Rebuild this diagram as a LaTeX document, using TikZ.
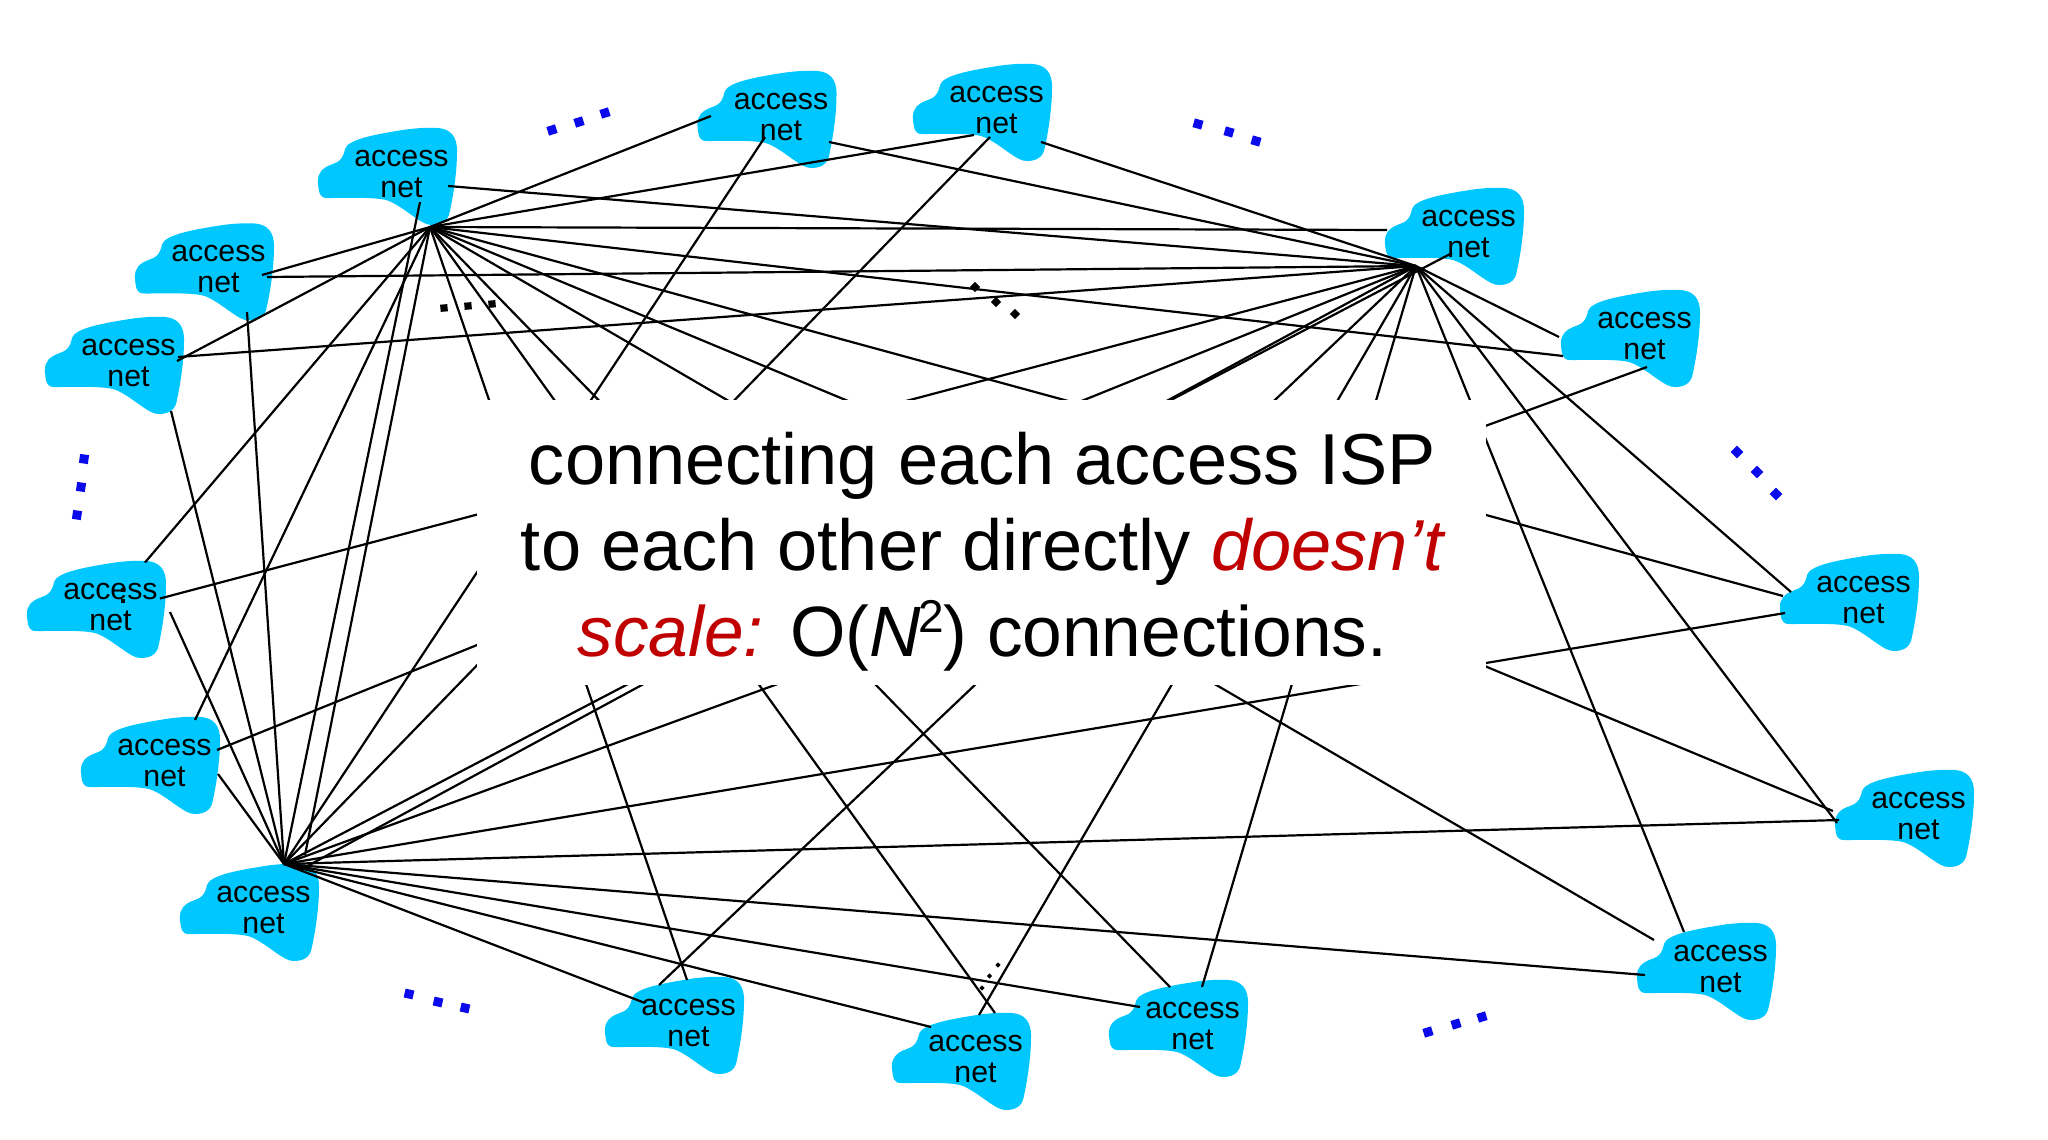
\documentclass[tikz,border=0pt]{standalone}
\usepackage{fontspec}
\setmainfont{Liberation Sans}
\definecolor{cloudblue}{RGB}{0,200,255}
\definecolor{dotblue}{RGB}{10,10,235}
\definecolor{msgred}{RGB}{192,0,0}
\tikzset{
  x=1pt,y=-1pt,
  link/.style={line width=2.2pt,black},
  cloudlabel/.style={font=\fontsize{30.3}{31}\selectfont,align=center,inner sep=0pt,text=black},
  pics/accessnet/.style={code={
    \fill[cloudblue] (15.5,70)
      .. controls (5,70) and (2,71) .. (0.5,60)
      .. controls (-1,50) and (0,44) .. (8,39)
      .. controls (17,34) and (24,36) .. (27,21)
      .. controls (30,12) and (52,7) .. (88,1.5)
      .. controls (100,0) and (108,-0.5) .. (120,0)
      .. controls (132,1) and (139.5,8) .. (139,24)
      .. controls (139,45) and (135,70) .. (131,87)
      .. controls (128,96) and (118,98) .. (110,96.5)
      .. controls (100,94) and (82,76) .. (68,72)
      .. controls (55,69) and (30,70) .. (15.5,70) -- cycle;
    \node[cloudlabel] (-t) at (83.5,45.5) {access\\net};
  }}
}
\newcommand{\dotsq}[5]{\fill[#1,shift={(#2,#3)},rotate=#4] (-#5,-#5) rectangle (#5,#5);}
\begin{document}
\begin{tikzpicture}
\useasboundingbox (0,0) rectangle (2048,1140);
% clouds
\pic (c1) at (318,128) {accessnet};
\pic (c2) at (697.5,71) {accessnet};
\pic (c3) at (913,64) {accessnet};
\pic (c4) at (1385,188) {accessnet};
\pic (c5) at (1561,290) {accessnet};
\pic (c6) at (1780,554) {accessnet};
\pic (c7) at (1835,770) {accessnet};
\pic (c8) at (1637,923) {accessnet};
\pic (c9) at (1109,980) {accessnet};
\pic (c10) at (892,1013) {accessnet};
\pic (c11) at (605,977) {accessnet};
\pic (c12) at (180,864) {accessnet};
\pic (c13) at (81,717) {accessnet};
\pic (c14) at (27,561) {accessnet};
\pic (c15) at (45,317) {accessnet};
\pic (c16) at (135,223.5) {accessnet};
% hubs
\coordinate (hubA) at (430,227);
\coordinate (hubB) at (1416,266);
\coordinate (hubC) at (284,864);
% connectors
\foreach \h/\n/\x/\y in {
  A/2/711/116, A/3/974/135, A/4/1387/230, A/5/1563/356, A/6/1783/596,
  A/7/1833/811, A/8/1654/940, A/9/1170/987, A/10/995/1013, A/11/687/980,
  A/12/305/855, A/13/195/720, A/14/145/562.5, A/15/177/361, A/16/262/275,
  B/1/448/186, B/2/829/142, B/3/1041/142, B/5/1559/337, B/6/1791/592,
  B/7/1837/823, B/8/1684/932, B/9/1202/987, B/10/979/1015, B/11/659/985,
  B/12/300/870, B/13/217/750, B/14/160/598.5, B/15/178/357, B/16/267/277,
  C/1/420/202, C/2/765/137, C/3/990/137, C/4/1452/253, C/5/1647/367,
  C/6/1785/613, C/7/1839/820, C/8/1645/975, C/9/1140/1007, C/10/931/1027,
  C/11/645/1003, C/13/218/774, C/14/170/612, C/15/171/411, C/16/247/312}
{
  \coordinate (\h end\n) at (\x,\y);
  \draw[link] (hub\h) -- (\h end\n);
}
% blue dot groups
\foreach \x/\y in {552/130,579/122,605/113} {\dotsq{dotblue}{\x}{\y}{18}{4.5}}
\foreach \x/\y in {1198/124,1229/132,1256/141} {\dotsq{dotblue}{\x}{\y}{-16}{4.5}}
\foreach \x/\y in {1737/452,1757/472,1776/494} {\dotsq{dotblue}{\x}{\y}{-45}{4.5}}
\foreach \x/\y in {1428/1032,1456/1024,1482/1017} {\dotsq{dotblue}{\x}{\y}{17}{4.5}}
\foreach \x/\y in {409/994,438/1002,465/1008} {\dotsq{dotblue}{\x}{\y}{-13}{4.5}}
\foreach \x/\y in {84/459,81/487,77/515} {\dotsq{dotblue}{\x}{\y}{-8}{4.5}}
% black dot groups
\foreach \x/\y in {444/308,468/306,492/304} {\dotsq{black}{\x}{\y}{5}{3.6}}
\foreach \x/\y in {975/287,996/302,1015/314} {\dotsq{black}{\x}{\y}{45}{3.6}}
\foreach \x/\y in {982/988,989.5/976,998/965} {\dotsq{black}{\x}{\y}{45}{1.8}}
\foreach \y in {590,601} {\dotsq{black}{123}{\y}{0}{1.8}}
% message
\node[fill=white,minimum width=1009pt,minimum height=285pt,inner sep=0pt] (box) at (981.5,542.5) {};
\node[font=\fontsize{72.2}{86}\selectfont,align=center,inner sep=0pt,text=black] (msg) at (982.5,552) {connecting each access ISP\\to each other directly \textcolor{msgred}{\itshape doesn’t}\\\fontsize{71.3}{86}\selectfont\textcolor{msgred}{\itshape scale:} O(\textit{N}\kern-2pt\raisebox{24pt}{\fontsize{46}{46}\selectfont 2}\kern-1pt) connections.};
\end{tikzpicture}
\end{document}
